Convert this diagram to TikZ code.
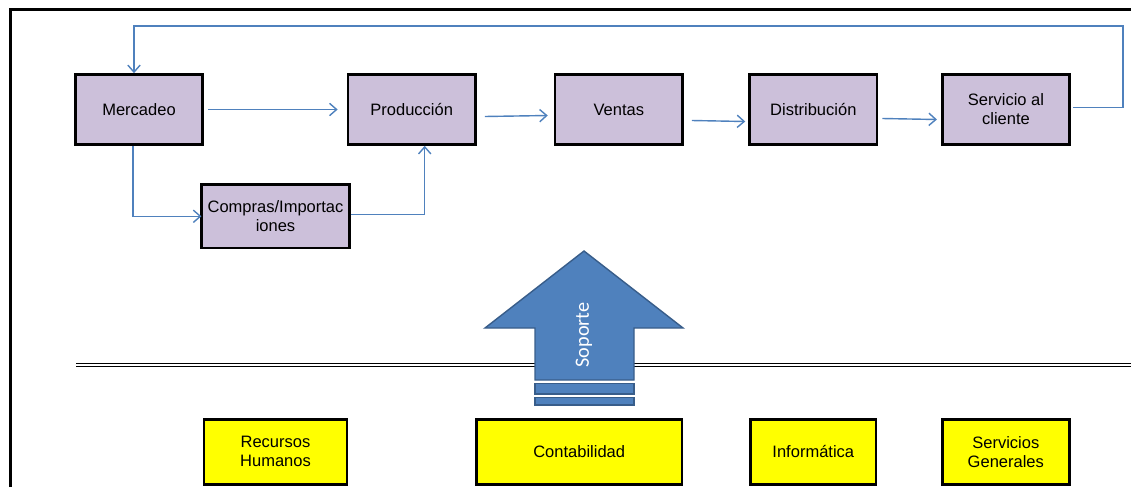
\documentclass[tikz,border=0pt]{standalone}
\usepackage{fontspec}
\setmainfont{Liberation Sans}
\newfontfamily\calibri{Carlito}
\usetikzlibrary{arrows.meta,calc}
\definecolor{lila}{HTML}{CCC0DA}
\definecolor{azul}{HTML}{4F81BD}
\definecolor{azuloscuro}{HTML}{385D8A}
\definecolor{amarillo}{HTML}{FFFF00}
\begin{document}
\begin{tikzpicture}[x=0.02cm,y=-0.02cm]
\tikzstyle{proc}=[draw,line width=1.5pt,fill=lila,minimum width=2.55cm,minimum height=1.4cm,align=center,font=\fontsize{9.4}{10.8}\selectfont];
\tikzstyle{apoyo}=[draw,line width=1.5pt,fill=amarillo,minimum height=1.3cm,align=center,font=\fontsize{9.4}{10.8}\selectfont];
\tikzstyle{dir}=[-{Straight Barb[length=4pt,width=7pt]},draw=azul,line width=0.8pt];
\useasboundingbox (0,0) rectangle (1131,487);
% marco
\draw [line width=1.3pt] (10.5,487) -- (10.5,9.5) -- (1131,9.5);
% cadena principal
\node [proc] (mer) at (139,109.5) {Mercadeo};
\node [proc] (pro) at (411.7,109.5) {Producción};
\node [proc] (ven) at (618.8,109.5) {Ventas};
\node [proc] (dis) at (813.3,109.5) {Distribución};
\node [proc] (ser) at (1006,109.5) {Servicio al\\cliente};
\node [proc,minimum width=2.86cm,minimum height=1.27cm] (com) at (275.5,216.3) {Compras/Importac\\iones};
\draw [dir] ($(mer.east)+(4,0)$) -- ($(pro.west)+(-9,0)$);
\draw [dir] ($(pro.east)+(8,7)$) -- ($(ven.west)+(-6,6)$);
\draw [dir] ($(ven.east)+(8,11)$) -- ($(dis.west)+(-3,12)$);
\draw [dir] ($(dis.east)+(4,9)$) -- ($(ser.west)+(-4,10)$);
\draw [dir] ($(ser.east)+(2,-2)$) -- (1123,107.5) |- ($(mer.north)+(-5,-47)$) -- (mer.north -| 134,0);
\draw [dir] ($(mer.south)+(-6,0)$) |- ($(com.west)+(1,0)$);
\draw [dir] ($(com.east)+(0,-2)$) -| ($(pro.south)+(13,0)$);
% linea doble
\draw [line width=0.6pt,double distance=0.9pt] (76,365) -- (1131,365);
% flecha de soporte
\draw [draw=azuloscuro,fill=azul,line width=0.8pt,line join=miter] (584,251) -- (683,328) -- (634,328) -- (634,380) -- (535,380) -- (535,328) -- (485,328) -- cycle;
\draw [draw=azuloscuro,fill=azul,line width=0.8pt] (535,383.5) rectangle (634,394);
\draw [draw=azuloscuro,fill=azul,line width=0.8pt] (535,397.5) rectangle (634,405);
\node [rotate=90,text=white,font=\calibri\fontsize{11.5}{12}\selectfont] (sop) at (584,335) {Soporte};
% apoyo
\node [apoyo,minimum width=2.86cm] (rh) at (275.5,451.7) {Recursos\\Humanos};
\node [apoyo,minimum width=4.11cm] (con) at (579.2,451.7) {Contabilidad};
\node [apoyo,minimum width=2.51cm] (inf) at (813.3,451.7) {Informática};
\node [apoyo,minimum width=2.54cm] (sg) at (1005.8,451.7) {Servicios\\Generales};
\end{tikzpicture}
\end{document}
